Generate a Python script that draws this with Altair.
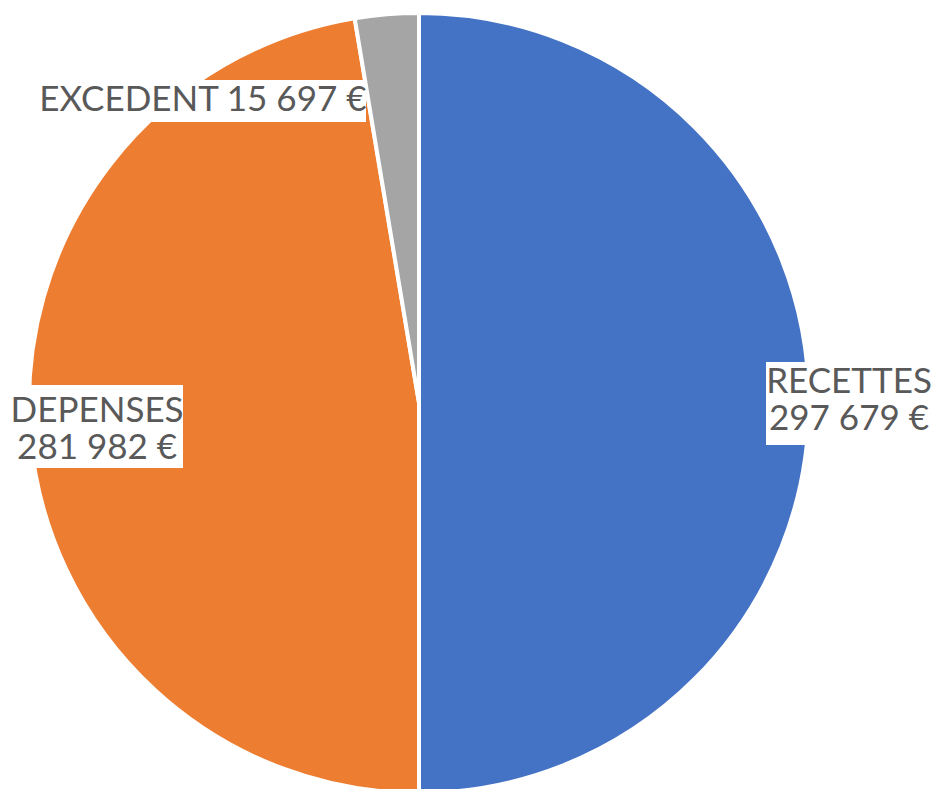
import altair as alt
import pandas as pd

categories = ["RECETTES", "DEPENSES", "EXCEDENT"]
values = [297679, 281982, 15697]
value_labels = ["297 679 €", "281 982 €", "15 697 €"]
colors = ["#4472C4", "#ED7D31", "#A5A5A5"]

df = pd.DataFrame({
    "cat": categories,
    "value": values,
    "order": list(range(len(categories))),
    "label": value_labels,
})

CX, CY, R = 411, 395, 390
theta = alt.Theta("value:Q", stack=True)
order = alt.Order("order:Q")

pie = alt.Chart(df).mark_arc(radius=R, stroke="white", strokeWidth=4).encode(
    theta=theta,
    order=order,
    color=alt.Color("cat:N", scale=alt.Scale(domain=categories, range=colors), legend=None),
    x=alt.value(CX), y=alt.value(CY),
)

def box(x1, x2, y1, y2):
    return alt.Chart(df).mark_rect(color="white").encode(
        x=alt.value(x1), x2=alt.value(x2), y=alt.value(y1), y2=alt.value(y2)
    ).transform_filter(alt.datum.order == 0)

boxes = [box(766 - 8, 941, 362 - 8, 445 - 8),
         box(0, 183 - 8, 385 - 8, 468 - 8),
         box(34 - 8, 366 - 8, 80 - 8, 122 - 8)]

def text_layer(cat, radius, dx, dy, two_lines):
    base = alt.Chart(df).transform_calculate(
        txt=("[datum.cat, datum.label]" if two_lines else "datum.cat + ' ' + datum.label")
    )
    return base.mark_text(
        radius=radius, dx=dx, dy=dy, font="Lato", fontSize=35, color="#595959",
        align="center", baseline="middle", lineHeight=37,
    ).encode(
        theta=theta, order=order, text="txt:N",
        x=alt.value(CX), y=alt.value(CY),
        opacity=alt.condition(alt.datum.cat == cat, alt.value(1), alt.value(0)),
    )

texts = [text_layer("RECETTES", 430, 0, -21, True),
         text_layer("DEPENSES", 323, 0, -19, True),
         text_layer("EXCEDENT", 304, -191, 0, False)]

chart = alt.layer(pie, *boxes, *texts).properties(
    width=925, height=781, padding=0, autosize=alt.AutoSizeParams(type="none")
).configure_view(stroke=None)

chart.save("out.html", embed_options={"renderer": "svg", "actions": False})
